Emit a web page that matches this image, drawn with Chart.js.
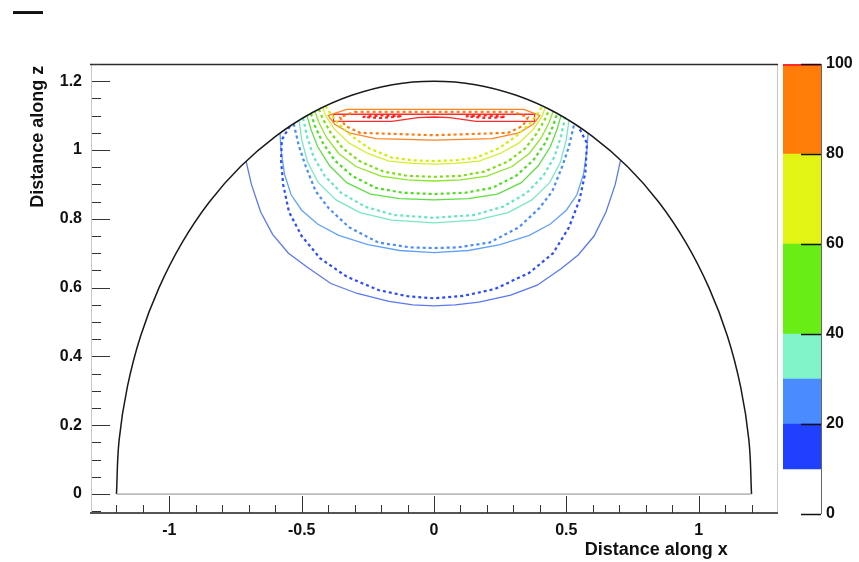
<!DOCTYPE html>
<html><head><meta charset="utf-8">
<script src="https://cdn.jsdelivr.net/npm/chart.js@4"></script>
<style>
html,body{margin:0;padding:0;background:#fff;}
#wrap{position:relative;width:859px;height:562px;overflow:hidden;background:#fff;}
#main{position:absolute;left:0;top:0;width:859px;height:562px;}
#bar{position:absolute;left:760px;top:0;width:99px;height:562px;}
#dash{position:absolute;left:13px;top:-4px;font:bold 30px "Liberation Sans",Arial,sans-serif;line-height:30px;color:#111;}
</style></head>
<body><div id="wrap">
<canvas id="main" width="859" height="562"></canvas>
<canvas id="bar" width="99" height="562"></canvas>
<div id="dash">—</div>
</div>
<script>
// ---- axis ticks ----
const xTickValues = [-1, -0.5, 0, 0.5, 1];
const xTickLabels = ['-1', '-0.5', '0', '0.5', '1'];
const xMinorTicks = [-1.2,-1.1,-0.9,-0.8,-0.7,-0.6,-0.4,-0.3,-0.2,-0.1,0.1,0.2,0.3,0.4,0.6,0.7,0.8,0.9,1.1,1.2];
const yTickValues = [0, 0.2, 0.4, 0.6, 0.8, 1, 1.2];
const yTickLabels = ['0', '0.2', '0.4', '0.6', '0.8', '1', '1.2'];
const yMinorTicks = [-0.05,0.05,0.1,0.15,0.25,0.3,0.35,0.45,0.5,0.55,0.65,0.7,0.75,0.85,0.9,0.95,1.05,1.1,1.15,1.25];
const zTickValues = [0, 20, 40, 60, 80, 100];
const zTickLabels = ['0', '20', '40', '60', '80', '100'];

// ---- colour scale bands ----
const bandLow  = [10, 20, 30, 40, 60, 80, 99.5];
const bandHigh = [20, 30, 40, 60, 80, 99.5, 100];
const bandColors = ['#2040ff', '#4a8cff', '#80f4c8', '#68ee14', '#e2f414', '#ff7c08', '#ff2a2a'];

// ---- boundary (x, z) ----
const boundary = [[-1.2,0],[-1.19,0.157],[-1.159,0.311],[-1.109,0.459],[-1.039,0.6],[-0.952,0.731],[-0.849,0.849],[-0.731,0.952],[-0.6,1.039],[-0.459,1.109],[-0.311,1.159],[-0.157,1.19],[0,1.2],[0.157,1.19],[0.311,1.159],[0.459,1.109],[0.6,1.039],[0.731,0.952],[0.849,0.849],[0.952,0.731],[1.039,0.6],[1.109,0.459],[1.159,0.311],[1.19,0.157],[1.2,0]];
const baseLine = [[-1.2,0],[1.2,0]];

// ---- contours (x, z) ----
const c10Solid = [[-0.71,0.967],[-0.69,0.9],[-0.655,0.82],[-0.61,0.755],[-0.55,0.7],[-0.48,0.66],[-0.39,0.612],[-0.29,0.583],[-0.17,0.56],[-0.08,0.55],[0,0.547],[0.08,0.55],[0.17,0.558],[0.29,0.578],[0.39,0.607],[0.48,0.655],[0.545,0.695],[0.605,0.75],[0.65,0.82],[0.685,0.9],[0.705,0.97]];
const c10Dashed = [[-0.545,1.069],[-0.575,1.03],[-0.578,0.97],[-0.57,0.9],[-0.548,0.82],[-0.5,0.75],[-0.43,0.685],[-0.33,0.632],[-0.21,0.593],[-0.1,0.575],[0,0.569],[0.11,0.576],[0.23,0.596],[0.36,0.643],[0.45,0.7],[0.51,0.775],[0.55,0.855],[0.572,0.935],[0.578,1.02],[0.545,1.069]];
const c20Solid = [[-0.582,1.049],[-0.578,1.0],[-0.565,0.93],[-0.54,0.87],[-0.5,0.825],[-0.44,0.785],[-0.36,0.752],[-0.25,0.725],[-0.13,0.708],[0,0.702],[0.13,0.708],[0.25,0.725],[0.36,0.752],[0.44,0.785],[0.5,0.825],[0.54,0.87],[0.565,0.93],[0.578,1.0],[0.582,1.049]];
const c20Dashed = [[-0.53,1.076],[-0.51,1.01],[-0.485,0.953],[-0.447,0.88],[-0.397,0.83],[-0.32,0.775],[-0.21,0.731],[-0.09,0.717],[0,0.715],[0.09,0.717],[0.21,0.731],[0.32,0.775],[0.397,0.83],[0.447,0.88],[0.485,0.953],[0.51,1.01],[0.53,1.076]];
const c30Solid = [[-0.51,1.086],[-0.5,1.03],[-0.478,0.965],[-0.437,0.905],[-0.37,0.855],[-0.28,0.818],[-0.16,0.796],[0,0.788],[0.16,0.796],[0.28,0.818],[0.37,0.855],[0.437,0.905],[0.478,0.965],[0.5,1.03],[0.51,1.086]];
const c30Dashed = [[-0.495,1.093],[-0.48,1.04],[-0.455,0.98],[-0.413,0.925],[-0.35,0.875],[-0.26,0.835],[-0.15,0.811],[0,0.803],[0.15,0.811],[0.26,0.835],[0.35,0.875],[0.413,0.925],[0.455,0.98],[0.48,1.04],[0.495,1.093]];
const c40Solid = [[-0.48,1.1],[-0.465,1.06],[-0.44,1.01],[-0.395,0.955],[-0.33,0.905],[-0.24,0.872],[-0.13,0.859],[0,0.855],[0.13,0.859],[0.24,0.872],[0.33,0.905],[0.395,0.955],[0.44,1.01],[0.465,1.06],[0.48,1.1]];
const c40Dashed = [[-0.465,1.106],[-0.45,1.07],[-0.42,1.02],[-0.375,0.97],[-0.31,0.925],[-0.22,0.89],[-0.12,0.876],[0,0.872],[0.12,0.876],[0.22,0.89],[0.31,0.925],[0.375,0.97],[0.42,1.02],[0.45,1.07],[0.465,1.106]];
const c50Solid = [[-0.45,1.112],[-0.435,1.08],[-0.405,1.035],[-0.36,0.99],[-0.295,0.952],[-0.2,0.924],[-0.1,0.913],[0,0.91],[0.1,0.913],[0.2,0.924],[0.295,0.952],[0.36,0.99],[0.405,1.035],[0.435,1.08],[0.45,1.112]];
const c50Dashed = [[-0.435,1.118],[-0.42,1.09],[-0.39,1.05],[-0.345,1.005],[-0.28,0.967],[-0.19,0.937],[-0.1,0.925],[0,0.922],[0.1,0.925],[0.19,0.937],[0.28,0.967],[0.345,1.005],[0.39,1.05],[0.42,1.09],[0.435,1.118]];
const c60Solid = [[-0.42,1.124],[-0.41,1.1],[-0.375,1.06],[-0.32,1.02],[-0.25,0.99],[-0.17,0.968],[-0.08,0.961],[0,0.959],[0.08,0.961],[0.17,0.968],[0.25,0.99],[0.32,1.02],[0.375,1.06],[0.41,1.1],[0.42,1.124]];
const c60Dashed = [[-0.41,1.128],[-0.395,1.11],[-0.36,1.075],[-0.31,1.04],[-0.245,1.005],[-0.16,0.978],[-0.08,0.97],[0,0.968],[0.08,0.97],[0.16,0.978],[0.245,1.005],[0.31,1.04],[0.36,1.075],[0.395,1.11],[0.41,1.128]];
const c80Solid = [[-0.33,1.118],[0.34,1.118],[0.4,1.1],[0.375,1.075],[0.32,1.05],[0.22,1.033],[0,1.029],[-0.22,1.033],[-0.32,1.05],[-0.375,1.075],[-0.4,1.1],[-0.33,1.118]];
const c80Dashed = [[-0.3,1.111],[0.3,1.111],[0.355,1.095],[0.335,1.07],[0.28,1.05],[0,1.043],[-0.28,1.05],[-0.335,1.07],[-0.355,1.095],[-0.3,1.111]];
const c98Solid = [[-0.38,1.104],[0.38,1.104],[0.38,1.083],[0.16,1.083],[0.06,1.094],[0,1.096],[-0.06,1.094],[-0.16,1.083],[-0.38,1.083],[-0.38,1.104]];
const c98DashedL = [[-0.27,1.096],[-0.2,1.101],[-0.12,1.098],[-0.2,1.093],[-0.27,1.096]];
const c98DashedR = [[0.12,1.098],[0.2,1.101],[0.27,1.096],[0.2,1.093],[0.12,1.098]];

const contours = [
  [c10Solid, '#5a78f2', false], [c10Dashed, '#2a4cff', true],
  [c20Solid, '#62a2f8', false], [c20Dashed, '#4a8cff', true],
  [c30Solid, '#78e8c4', false], [c30Dashed, '#62e6c0', true],
  [c40Solid, '#5ede44', false], [c40Dashed, '#4edc20', true],
  [c50Solid, '#8ce62c', false], [c50Dashed, '#7ee010', true],
  [c60Solid, '#d6ee30', false], [c60Dashed, '#d2ee08', true],
  [c80Solid, '#ff8424', false], [c80Dashed, '#ff7c10', true],
  [c98Solid, '#ff2a2a', false], [c98DashedL, '#ff2020', true], [c98DashedR, '#ff2020', true]
];

const toPts = arr => arr.map(p => ({x: p[0], y: p[1]}));
const datasets = [];
datasets.push({data: toPts(baseLine), borderColor: '#888', borderWidth: 1, showLine: true, pointRadius: 0});
datasets.push({data: toPts(boundary), borderColor: '#1a1a1a', borderWidth: 1.5, showLine: true, pointRadius: 0, tension: 0.4});
contours.forEach(([pts, col, dashed]) => {
  datasets.push({data: toPts(pts), borderColor: col, borderWidth: dashed ? 2.2 : 1.3,
    borderDash: dashed ? [3, 3] : [], showLine: true, pointRadius: 0, tension: 0});
});

const FONT = '"Liberation Sans", Arial, Helvetica, sans-serif';

function line(ctx, x1, y1, x2, y2) { ctx.beginPath(); ctx.moveTo(x1, y1); ctx.lineTo(x2, y2); ctx.stroke(); }

const framePlugin = {
  id: 'frame',
  beforeDatasetsDraw(chart) {
    const {ctx, chartArea: a} = chart;
    ctx.save();
    ctx.strokeStyle = '#c8c8c8'; ctx.lineWidth = 1;
    line(ctx, a.left + 1.5, a.top, a.left + 1.5, a.bottom);
    line(ctx, a.right - 0.5, a.top, a.right - 0.5, a.bottom);
    ctx.strokeStyle = '#2a2a2a'; ctx.lineWidth = 1.5;
    line(ctx, a.left, a.top + 0.5, a.right, a.top + 0.5);
    ctx.restore();
  },
  afterDatasetsDraw(chart) {
    const {ctx, chartArea: a, scales: {x, y}} = chart;
    ctx.save();
    ctx.strokeStyle = '#555'; ctx.lineWidth = 2;
    line(ctx, a.left, a.bottom, a.right, a.bottom);
    ctx.strokeStyle = '#333'; ctx.lineWidth = 1;
    xTickValues.forEach(v => { const p = Math.round(x.getPixelForValue(v)) + 0.5; line(ctx, p, a.bottom, p, a.bottom - 17); });
    xMinorTicks.forEach(v => { const p = Math.round(x.getPixelForValue(v)) + 0.5; line(ctx, p, a.bottom, p, a.bottom - 8); });
    yTickValues.forEach(v => { const p = Math.round(y.getPixelForValue(v)) + 0.5; line(ctx, a.left + 2, p, a.left + 20, p); });
    yMinorTicks.forEach(v => { const p = Math.round(y.getPixelForValue(v)) + 0.5; line(ctx, a.left + 2, p, a.left + 11, p); });
    ctx.restore();
  },
  afterDraw(chart) {
    const {ctx, scales: {x, y}} = chart;
    ctx.save();
    ctx.fillStyle = '#111';
    ctx.font = 'bold 18px ' + FONT;
    ctx.textAlign = 'right'; ctx.textBaseline = 'middle';
    ctx.fillText('Distance along x', x.getPixelForValue(1.11), 550);
    ctx.translate(38, y.getPixelForValue(1.245));
    ctx.rotate(-Math.PI / 2);
    ctx.fillText('Distance along z', 0, 0);
    ctx.restore();
  }
};

new Chart(document.getElementById('main'), {
  type: 'scatter',
  data: {datasets},
  options: {
    responsive: false, animation: false, devicePixelRatio: 1,
    layout: {padding: {top: 64, right: 81, left: 0, bottom: 0}},
    plugins: {legend: {display: false}, tooltip: {enabled: false}, title: {display: false}},
    scales: {
      x: {type: 'linear', min: -1.3, max: 1.3,
        afterBuildTicks: s => { s.ticks = xTickValues.map(v => ({value: v})); },
        afterFit: s => { s.height = 49; },
        ticks: {callback: (v, i) => xTickLabels[i], font: {family: FONT, weight: 'bold', size: 16}, color: '#111', padding: 8, maxRotation: 0, autoSkip: false},
        grid: {display: false, drawTicks: false}, border: {display: false}},
      y: {type: 'linear', min: -0.055, max: 1.25,
        afterBuildTicks: s => { s.ticks = yTickValues.map(v => ({value: v})); },
        afterFit: s => { s.width = 90; },
        ticks: {callback: (v, i) => yTickLabels[i], font: {family: FONT, weight: 'bold', size: 16}, color: '#111', padding: 8, autoSkip: false},
        grid: {display: false, drawTicks: false}, border: {display: false}}
    }
  },
  plugins: [framePlugin]
});

const barPlugin = {
  id: 'barticks',
  afterDatasetsDraw(chart) {
    const {ctx, chartArea: a, scales: {y}} = chart;
    ctx.save();
    ctx.strokeStyle = '#666'; ctx.lineWidth = 1;
    line(ctx, a.right + 0.5, a.top, a.right + 0.5, a.bottom);
    ctx.strokeStyle = '#111'; ctx.lineWidth = 1.5;
    zTickValues.forEach(v => { const p = Math.round(y.getPixelForValue(v)) + 0.5; line(ctx, a.right, p, a.right - 20, p); });
    ctx.restore();
  }
};

new Chart(document.getElementById('bar'), {
  type: 'bar',
  data: {labels: [''], datasets: bandLow.map((lo, i) => ({
    data: [[lo, bandHigh[i]]], backgroundColor: bandColors[i], borderWidth: 0,
    barPercentage: 1, categoryPercentage: 1, grouped: false}))},
  options: {
    responsive: false, animation: false, devicePixelRatio: 1,
    layout: {padding: {top: 64, left: 23, right: 0, bottom: 48}},
    plugins: {legend: {display: false}, tooltip: {enabled: false}},
    scales: {
      x: {display: false},
      y: {position: 'right', min: 0, max: 100,
        afterBuildTicks: s => { s.ticks = zTickValues.map(v => ({value: v})); },
        afterFit: s => { s.width = 38; },
        ticks: {callback: (v, i) => zTickLabels[i], font: {family: FONT, weight: 'bold', size: 16}, color: '#111', padding: 5, autoSkip: false},
        grid: {display: false, drawTicks: false}, border: {display: false}}
    }
  },
  plugins: [barPlugin]
});
</script>
</body></html>
